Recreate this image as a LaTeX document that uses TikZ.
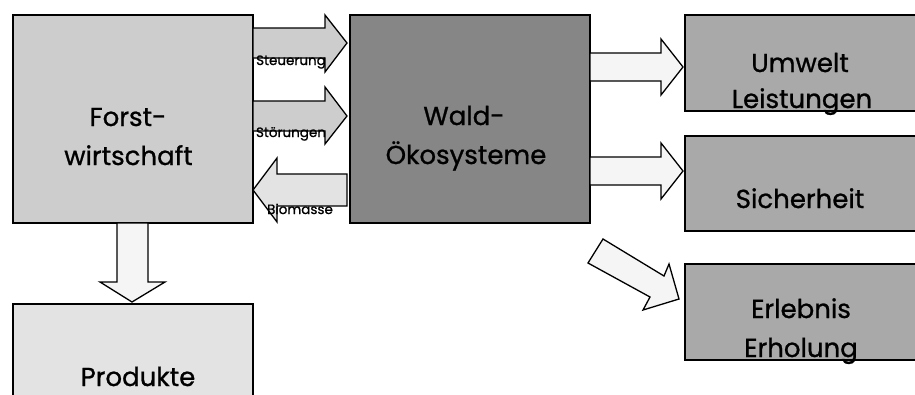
\documentclass[tikz,border=0pt]{standalone}
\usepackage{fontspec}
\setmainfont{Poppins}[FakeBold=0.9]
\definecolor{forstgray}{HTML}{CDCDCD}
\definecolor{waldgray}{HTML}{868686}
\definecolor{rightgray}{HTML}{A9A9A9}
\definecolor{prodgray}{HTML}{E3E3E3}
\definecolor{biogray}{HTML}{E3E3E3}
\definecolor{lightarrow}{HTML}{F5F5F5}
\begin{document}
\begin{tikzpicture}[x=1pt,y=-1pt,
  box/.style={draw=black,line width=1.5pt,anchor=north west,inner sep=0pt},
  lbl/.style={font=\fontsize{26}{30}\selectfont,anchor=base,inner sep=0pt},
  small/.style={font=\fontsize{13.5}{15}\selectfont,anchor=base,inner sep=0pt},
  barrow/.style={draw=black,line width=1.3pt,line join=miter}]
\useasboundingbox (0,0) rectangle (915,394);
\clip (0,0) rectangle (915,394);
% boxes
\node[box,fill=forstgray,minimum width=240pt,minimum height=208pt] (forst) at (12,14) {};
\node[box,fill=prodgray,minimum width=240pt,minimum height=120pt] (prod) at (12,303) {};
\node[box,fill=waldgray,minimum width=240pt,minimum height=208pt] (wald) at (349,14) {};
\node[box,fill=rightgray,minimum width=250pt,minimum height=96pt] (umw) at (684,14) {};
\node[box,fill=rightgray,minimum width=250pt,minimum height=95pt] (sich) at (684,135) {};
\node[box,fill=rightgray,minimum width=250pt,minimum height=96pt] (erl) at (684,263) {};
% block arrows
\draw[barrow,fill=forstgray] (253,28) -- (325,28) -- (325,15) -- (347,43) -- (325,72) -- (325,58) -- (253,58) -- cycle;
\draw[barrow,fill=forstgray] (253,101) -- (325,101) -- (325,87) -- (347,116) -- (325,144) -- (325,131) -- (253,131) -- cycle;
\draw[barrow,fill=biogray] (347,174) -- (277,174) -- (277,158) -- (253,190) -- (277,222) -- (277,206) -- (347,206) -- cycle;
\draw[barrow,fill=lightarrow] (590,53) -- (661,53) -- (661,39) -- (683,67) -- (661,95) -- (661,81) -- (590,81) -- cycle;
\draw[barrow,fill=lightarrow] (590,157) -- (661,157) -- (661,143) -- (683,171) -- (661,199) -- (661,185) -- (590,185) -- cycle;
\draw[barrow,fill=lightarrow] (117,223) -- (117,282) -- (100,282) -- (132,302) -- (165,282) -- (148,282) -- (148,223) -- cycle;
\draw[barrow,fill=lightarrow] (603,239) -- (664,276) -- (669,264) -- (679,299) -- (643,310) -- (650,297) -- (588,263) -- cycle;
% texts
\node[lbl] (t1) at (128,126) {Forst-};
\node[lbl] (t2) at (128.5,165) {wirtschaft};
\node[lbl] (t3) at (464,125) {Wald-};
\node[lbl] (t4) at (466,164) {Ökosysteme};
\node[lbl] (t5) at (800,72) {Umwelt};
\node[lbl] (t6) at (802,108) {Leistungen};
\node[lbl] (t7) at (800,208) {Sicherheit};
\node[lbl] (t8) at (801,318) {Erlebnis};
\node[lbl] (t9) at (801,357) {Erholung};
\node[lbl] (t10) at (138,386) {Produkte};
\node[small] (s1) at (291,65) {Steuerung};
\node[small] (s2) at (291,137) {Störungen};
\node[small] (s3) at (300,214) {Biomasse};
\end{tikzpicture}
\end{document}
